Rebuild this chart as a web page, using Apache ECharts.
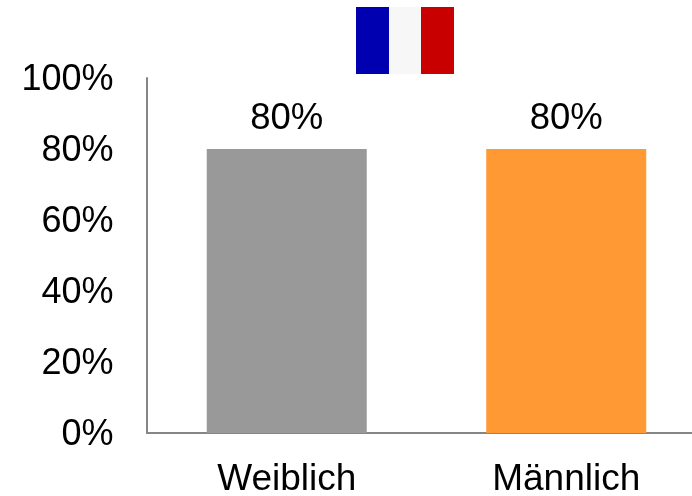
<!DOCTYPE html>
<html><head><meta charset="utf-8">
<style>html,body{margin:0;padding:0;background:#fff}#c{width:692px;height:496px}</style>
<script src="https://cdn.jsdelivr.net/npm/echarts@6/dist/echarts.min.js"></script>
</head><body><div id="c"></div>
<script>
const categories = ['Weiblich', 'Männlich'];
const values = [80, 80];
const barColors = ['#999999', '#ff9933'];
const flagColors = ['#0000b0', '#f7f7f7', '#c80000'];
const chart = echarts.init(document.getElementById('c'), null, {renderer:'canvas'});
const font = '"Liberation Sans", Arial, sans-serif';
chart.setOption({
  animation:false,
  backgroundColor:'#fff',
  grid:{left:147,right:-14,top:78,bottom:63,outerBoundsMode:'none'},
  xAxis:{type:'category',data:categories,
    axisLine:{lineStyle:{color:'#868686',width:2}},axisTick:{show:false},
    axisLabel:{fontFamily:font,fontSize:37,color:'#000',margin:28}},
  yAxis:{type:'value',min:0,max:100,interval:20,
    axisLine:{show:true,lineStyle:{color:'#868686',width:2}},axisTick:{show:false},splitLine:{show:false},
    axisLabel:{margin:33.5,formatter:'{a|{value}%}',
      rich:{a:{fontFamily:font,fontSize:36,color:'#000',padding:[4,0,0,0]}}}},
  series:[{type:'bar',barWidth:160,
    data:values.map((v,i)=>({value:v,itemStyle:{color:barColors[i]}})),
    label:{show:true,position:'top',distance:12,fontFamily:font,fontSize:36.5,color:'#000',formatter:'{c}%'}}],
  graphic:[
    {type:'rect',shape:{x:356,y:7,width:33,height:67},style:{fill:flagColors[0]}},
    {type:'rect',shape:{x:389,y:7,width:33,height:67},style:{fill:flagColors[1]}},
    {type:'rect',shape:{x:421,y:7,width:33,height:67},style:{fill:flagColors[2]}}
  ]
});
</script></body></html>
